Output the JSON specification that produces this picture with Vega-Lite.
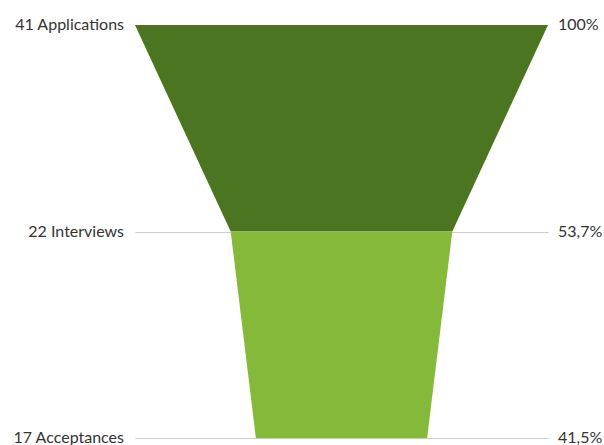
{
  "$schema": "https://vega.github.io/schema/vega-lite/v6.json",
  "autosize": {"type": "none"},
  "padding": {"left": 135, "top": 25, "right": 56, "bottom": 7},
  "width": 413,
  "height": 413,
  "background": "white",
  "config": {"view": {"stroke": null}, "font": "Lato"},
  "datasets": {
    "segments": [
      {"seg": "A", "pos": 0, "v": 41},
      {"seg": "A", "pos": 1, "v": 22},
      {"seg": "B", "pos": 1, "v": 22},
      {"seg": "B", "pos": 2, "v": 17}
    ],
    "stages": [
      {"pos": 0, "label": "41 Applications", "pct": "100%"},
      {"pos": 1, "label": "22 Interviews", "pct": "53,7%"},
      {"pos": 2, "label": "17 Acceptances", "pct": "41,5%"}
    ]
  },
  "resolve": {"scale": {"x": "shared"}},
  "encoding": {
    "y": {
      "field": "pos",
      "type": "quantitative",
      "scale": {"domain": [0, 2], "reverse": true, "nice": false, "zero": false},
      "axis": {"labels": false, "ticks": false, "domain": false, "title": null, "grid": true, "values": [0, 1, 2], "gridColor": "#cccccc", "gridWidth": 1}
    }
  },
  "layer": [
    {
      "data": {"name": "segments"},
      "transform": [
        {"calculate": "-datum.v / 2", "as": "lo"},
        {"calculate": "datum.v / 2", "as": "hi"}
      ],
      "mark": {"type": "area", "orient": "horizontal"},
      "encoding": {
        "x": {"field": "lo", "type": "quantitative", "scale": {"domain": [-20.5, 20.5], "nice": false, "zero": false}, "axis": null},
        "x2": {"field": "hi"},
        "color": {"field": "seg", "type": "nominal", "scale": {"domain": ["A", "B"], "range": ["#4b7520", "#84b93a"]}, "legend": null}
      }
    },
    {
      "data": {"name": "stages"},
      "mark": {"type": "text", "align": "right", "baseline": "middle", "dx": -11, "fontSize": 16, "color": "#333333", "font": "Lato"},
      "encoding": {
        "x": {"datum": -20.5, "type": "quantitative"},
        "text": {"field": "label"}
      }
    },
    {
      "data": {"name": "stages"},
      "mark": {"type": "text", "align": "left", "baseline": "middle", "dx": 10, "fontSize": 16, "color": "#333333", "font": "Lato"},
      "encoding": {
        "x": {"datum": 20.5, "type": "quantitative"},
        "text": {"field": "pct"}
      }
    }
  ]
}
